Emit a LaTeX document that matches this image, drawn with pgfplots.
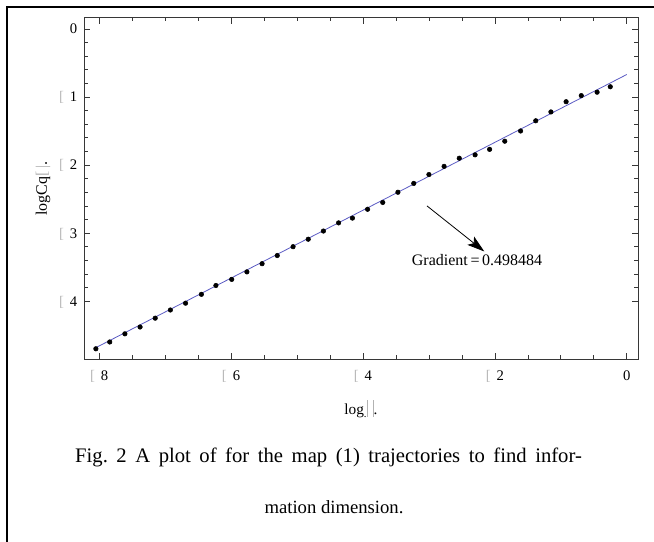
\documentclass[border=0pt]{standalone}
\usepackage{fontspec}
\setmainfont{Liberation Serif}
\usepackage{pgfplots}
\pgfplotsset{compat=1.18}
\usetikzlibrary{arrows.meta}
\definecolor{fitblue}{RGB}{90,90,195}
\definecolor{axgray}{RGB}{55,55,55}
\newcommand\mn{\textcolor{gray!55}{[}\hspace{4.5pt}}
\newcommand\tofu{\textcolor{gray!60}{\rule[-1.5pt]{0.4pt}{13pt}\hspace{4pt}\rule[-1.5pt]{0.4pt}{13pt}}}
\frenchspacing
\begin{document}
\begin{tikzpicture}
\path[use as bounding box] (0,0) rectangle (490.5pt,-406.5pt);
\draw[line width=1.5pt, line join=miter] (5.25pt,-406.5pt) -- (5.25pt,-5.25pt) -- (490.5pt,-5.25pt);
\begin{axis}[
  at={(63pt,-269.25pt)}, anchor=south west,
  scale only axis, width=415.5pt, height=256pt,
  xmin=-8.23, xmax=0.17, ymin=-4.85, ymax=0.165,
  xtick={-8,-6,-4,-2,0}, xticklabels={\mn 8,\mn 6,\mn 4,\mn 2,0},
  ytick={-4,-3,-2,-1,0}, yticklabels={\mn 4,\mn 3,\mn 2,\mn 1,0},
  minor x tick num=3, minor y tick num=4,
  tick align=inside,
  major tick length=4.5pt, minor tick length=2.7pt,
  axis line style={axgray, line width=0.6pt},
  every tick/.style={axgray, line width=0.5pt},
  tick label style={font=\fontsize{11}{12}\selectfont},
  xticklabel style={anchor=base, yshift=-16.3pt},
  yticklabel style={anchor=base east, yshift=-3.7pt, xshift=-1.5pt},
  xlabel={log\textsubscript{.}\tofu.},
  ylabel={logCq\textcolor{gray!60}{[\,|}.},
  xlabel style={at={(axis description cs:0.5,-0.164)}, anchor=base, font=\fontsize{11.5}{13}\selectfont},
  ylabel style={at={(axis description cs:-0.0668,0.5)}, anchor=base, font=\fontsize{12}{13}\selectfont},
  clip=false,
]
\addplot[fitblue, line width=0.6pt, no marks] coordinates {(-8.05,-4.683) (0,-0.67)};
\addplot[only marks, mark=*, mark size=1.7pt, black] coordinates {
(-8.05,-4.70) (-7.84,-4.60) (-7.61,-4.48) (-7.38,-4.38) (-7.15,-4.25)
(-6.92,-4.13) (-6.69,-4.03) (-6.45,-3.90) (-6.23,-3.77) (-5.99,-3.68)
(-5.76,-3.57) (-5.53,-3.45) (-5.30,-3.33) (-5.06,-3.20) (-4.83,-3.09)
(-4.60,-2.97) (-4.37,-2.85) (-4.16,-2.78) (-3.93,-2.65) (-3.70,-2.55)
(-3.47,-2.40) (-3.23,-2.27) (-3.00,-2.14) (-2.77,-2.02) (-2.54,-1.90)
(-2.30,-1.85) (-2.08,-1.77) (-1.85,-1.65) (-1.61,-1.50) (-1.38,-1.35)
(-1.15,-1.22) (-0.92,-1.07) (-0.69,-0.98) (-0.45,-0.93) (-0.25,-0.85)
};
\draw[black, line width=0.6pt, -{Stealth[length=13pt, width=8pt, inset=3pt]}] (axis cs:-3.03,-2.60) -- (axis cs:-2.16,-3.27);
\node[anchor=base, inner sep=0pt, font=\fontsize{12}{13}\selectfont] at (axis cs:-2.27,-3.474) {Gradient\,=\,0.498484};
\end{axis}
\node[anchor=base, inner sep=0pt, font=\fontsize{15.5}{17}\selectfont] at (246.4pt,-347pt) {\makebox[380pt][s]{Fig. 2 A plot of for the map (1) trajectories to find infor-}};
\node[anchor=base, inner sep=0pt, font=\fontsize{14}{16}\selectfont] at (250.5pt,-384.75pt) {mation dimension.};
\end{tikzpicture}
\end{document}
